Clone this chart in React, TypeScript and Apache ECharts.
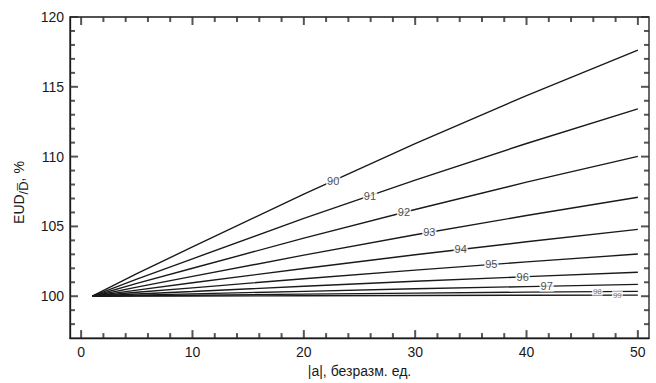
import React, { useEffect, useRef } from "react";
import * as echarts from "echarts";

// Abscissa points |a| at which the curves were read
const aValues = [1, 5, 10, 20, 30, 40, 50];

// Curve levels
const levels = ["90", "91", "92", "93", "94", "95", "96", "97", "98", "99"];

// EUD/D̄ (%) for each level, read at aValues
const eud90 = [100, 101.62, 103.53, 107.32, 110.93, 114.37, 117.63];
const eud91 = [100, 101.23, 102.68, 105.57, 108.32, 110.94, 113.42];
const eud92 = [100, 100.92, 102.0, 104.16, 106.21, 108.17, 110.02];
const eud93 = [100, 100.65, 101.42, 102.94, 104.4, 105.78, 107.09];
const eud94 = [100, 100.44, 100.96, 101.99, 102.97, 103.9, 104.79];
const eud95 = [100, 100.28, 100.6, 101.25, 101.87, 102.46, 103.02];
const eud96 = [100, 100.16, 100.34, 100.71, 101.07, 101.4, 101.72];
const eud97 = [100, 100.08, 100.17, 100.35, 100.53, 100.69, 100.85];
const eud98 = [100, 100.03, 100.07, 100.15, 100.22, 100.29, 100.35];
const eud99 = [100, 100.01, 100.02, 100.03, 100.05, 100.07, 100.08];

// Where along |a| each level label sits
const labelA = [22.64, 25.94, 28.99, 31.27, 34.09, 36.84, 39.66, 41.81, 46.36, 48.16];

// Axis ticks
const xMajor = [0, 10, 20, 30, 40, 50];
const xMinor = [2, 4, 6, 8, 12, 14, 16, 18, 22, 24, 26, 28, 32, 34, 36, 38, 42, 44, 46, 48];
const yMajor = [100, 105, 110, 115, 120];
const yMinor = [98, 99, 101, 102, 103, 104, 106, 107, 108, 109, 111, 112, 113, 114, 116, 117, 118, 119];

const curves = [eud90, eud91, eud92, eud93, eud94, eud95, eud96, eud97, eud98, eud99];

const FONT = "'Liberation Sans', Arial, sans-serif";
const INK = "#1a1a1a";
const TICK = "#2a2a2a";
const X_MIN = -1, X_MAX = 51, Y_MIN = 97, Y_MAX = 120;
const MAJOR_LEN = 8, MINOR_LEN = 5, TW = 2;

function interp(xs: number[], ys: number[], x: number): number {
  for (let i = 0; i < xs.length - 1; i++) {
    if (x >= xs[i] && x <= xs[i + 1]) {
      const t = (x - xs[i]) / (xs[i + 1] - xs[i]);
      return ys[i] + t * (ys[i + 1] - ys[i]);
    }
  }
  return ys[ys.length - 1];
}

// Tick marks: rect symbols anchored on the frame through the axes' scales
function tickSeries(points: number[][], size: number[], offset: number[]) {
  return {
    type: "scatter",
    data: points,
    symbol: "rect",
    symbolSize: size,
    symbolOffset: offset,
    itemStyle: { color: TICK },
    clip: false,
    z: 10,
  };
}

export default function App() {
  const ref = useRef<HTMLDivElement>(null);

  useEffect(() => {
    document.body.style.margin = "0";
    if (!ref.current) return;
    const chart = echarts.init(ref.current, null, { renderer: "svg" });

    const ticks = [
      tickSeries(xMajor.map((v) => [v, Y_MIN]), [TW, MAJOR_LEN], [0, -MAJOR_LEN / 2]),
      tickSeries(xMinor.map((v) => [v, Y_MIN]), [TW, MINOR_LEN], [0, -MINOR_LEN / 2]),
      tickSeries(xMajor.map((v) => [v, Y_MAX]), [TW, MAJOR_LEN], [0, MAJOR_LEN / 2]),
      tickSeries(xMinor.map((v) => [v, Y_MAX]), [TW, MINOR_LEN], [0, MINOR_LEN / 2]),
      tickSeries(yMajor.map((v) => [X_MIN, v]), [MAJOR_LEN, TW], [MAJOR_LEN / 2, 0]),
      tickSeries(yMinor.map((v) => [X_MIN, v]), [MINOR_LEN, TW], [MINOR_LEN / 2, 0]),
      tickSeries(yMajor.map((v) => [X_MAX, v]), [MAJOR_LEN, TW], [-MAJOR_LEN / 2, 0]),
      tickSeries(yMinor.map((v) => [X_MAX, v]), [MINOR_LEN, TW], [-MINOR_LEN / 2, 0]),
    ];

    const lineSeries = curves.map((c) => ({
      type: "line",
      data: aValues.map((a, j) => [a, c[j]]),
      symbol: "none",
      lineStyle: { color: INK, width: 1.4 },
      z: 2,
    }));

    const labelSeries = curves.map((c, i) => {
      const small = i >= 8;
      const col = small ? "#555" : INK;
      return {
        type: "scatter",
        data: [[labelA[i], interp(aValues, c, labelA[i])]],
        symbolSize: 0,
        z: 5,
        label: {
          show: true,
          position: "inside",
          formatter: levels[i],
          fontFamily: FONT,
          fontSize: small ? 8 : 11,
          color: col,
          backgroundColor: "#fff",
          padding: [0, 1],
        },
      };
    });

    chart.setOption({
      animation: false,
      backgroundColor: "#fff",
      grid: {
        left: 70,
        right: 7,
        top: 17,
        bottom: 41,
        show: true,
        borderColor: INK,
        borderWidth: 1.3,
        backgroundColor: "transparent",
      },
      xAxis: {
        type: "value",
        min: X_MIN,
        max: X_MAX,
        splitLine: { show: false },
        axisLine: { show: true, onZero: false, lineStyle: { color: INK, width: 1.3 } },
        axisTick: { show: false },
        axisLabel: { show: true, customValues: xMajor, margin: 7, fontFamily: FONT, fontSize: 14, color: INK },
        name: "|a|, безразм. ед.",
        nameLocation: "middle",
        nameGap: 23,
        nameTextStyle: { fontFamily: FONT, fontSize: 14, color: INK },
      },
      yAxis: {
        type: "value",
        min: Y_MIN,
        max: Y_MAX,
        splitLine: { show: false },
        axisLine: { show: true, onZero: false, lineStyle: { color: INK, width: 1.3 } },
        axisTick: { show: false },
        axisLabel: { show: true, customValues: yMajor, margin: 6, fontFamily: FONT, fontSize: 14, color: INK },
        name: "EUD{s|/D\u0305}, %",
        nameLocation: "middle",
        nameGap: 28,
        nameTextStyle: {
          fontFamily: FONT,
          fontSize: 14,
          color: INK,
          padding: [0, 30, 0, 0],
          rich: {
            s: { fontFamily: FONT, fontSize: 13, color: INK, padding: [9, 0, 0, 0] },
          },
        },
      },
      series: [...ticks, ...lineSeries, ...labelSeries],
    } as any);

    return () => chart.dispose();
  }, []);

  return <div ref={ref} style={{ width: 656, height: 383 }} />;
}
